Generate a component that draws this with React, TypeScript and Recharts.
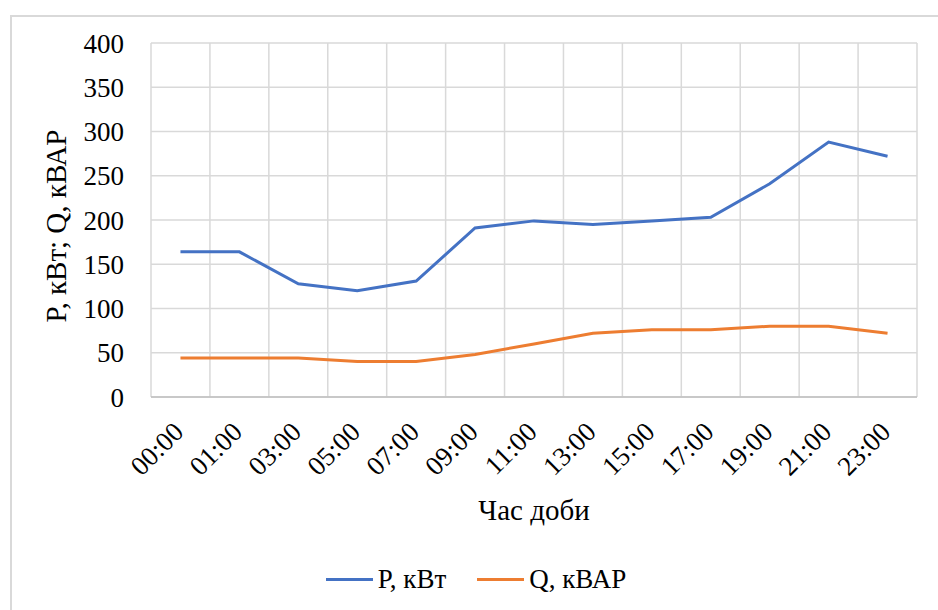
import { LineChart, Line, XAxis, YAxis, CartesianGrid, Legend, Label, Text } from "recharts";

const hours = ["00:00", "01:00", "03:00", "05:00", "07:00", "09:00", "11:00", "13:00", "15:00", "17:00", "19:00", "21:00", "23:00"];
const pValues = [164, 164, 128, 120, 131, 191, 199, 195, 199, 203, 241, 288, 272];
const qValues = [44, 44, 44, 40, 40, 48, 60, 72, 76, 76, 80, 80, 72];
const yTicks = [0, 50, 100, 150, 200, 250, 300, 350, 400];

const seriesNames = { p: "P, кВт", q: "Q, кВАР" };
const BLUE = "#4472C4";
const ORANGE = "#ED7D31";
const FONT = "Liberation Serif";

const data = hours.map((h, i) => ({ hour: h, p: pValues[i], q: qValues[i] }));

// vertical grid lines sit on the category boundaries, like Excel does
const boundaryLines = ({ offset, xAxis }: any) => {
  const left = offset?.left ?? xAxis.x;
  const w = offset?.width ?? xAxis.width;
  return Array.from({ length: hours.length + 1 }, (_, i) => left + (i * w) / hours.length);
};

const HourTick = ({ x, y, payload }: any) => (
  <Text
    x={x - 9}
    y={y}
    angle={-45}
    textAnchor="end"
    verticalAnchor="start"
    fontSize={27}
    fontFamily={FONT}
    fill="#000"
  >
    {payload.value}
  </Text>
);

const LegendBox = () => (
  <div style={{ display: "flex", justifyContent: "center", paddingLeft: 14, fontFamily: FONT, fontSize: 27, color: "#000" }}>
    {[
      { name: seriesNames.p, color: BLUE },
      { name: seriesNames.q, color: ORANGE },
    ].map((s, i) => (
      <div key={s.name} style={{ display: "flex", alignItems: "center", marginLeft: i ? 31 : 0 }}>
        <span style={{ display: "inline-block", width: 47, height: 3, background: s.color, marginRight: 5 }} />
        <span>{s.name}</span>
      </div>
    ))}
  </div>
);

export default function App() {
  return (
    <div style={{ position: "relative", width: 938, height: 610, overflow: "hidden", background: "#fff", fontFamily: FONT }}>
      <style>{`body{margin:0;overflow:hidden}`}</style>
      <div
        style={{
          position: "absolute",
          left: 10,
          top: 15,
          width: 1000,
          height: 700,
          border: "2px solid #d9d9d9",
        }}
      />
      <div style={{ position: "absolute", left: 0, top: 0 }}>
        <LineChart width={938} height={610} data={data} margin={{ top: 43, right: 21, left: 0, bottom: 90 }}>
          <CartesianGrid stroke="#d9d9d9" strokeWidth={1.5} verticalCoordinatesGenerator={boundaryLines} />
          <XAxis
            dataKey="hour"
            scale="band"
            height={123}
            tickSize={0}
            tickMargin={23}
            tickLine={false}
            axisLine={{ stroke: "#bfbfbf", strokeWidth: 1.5 }}
            tick={<HourTick />}
            interval={0}
          >
            <Label value="Час доби" position="insideBottom" offset={0} fontSize={29} fontFamily={FONT} fill="#000" />
          </XAxis>
          <YAxis
            width={151}
            domain={[0, 400]}
            ticks={yTicks}
            axisLine={false}
            tickLine={false}
            tickSize={0}
            tickMargin={27}
            tick={{ fontSize: 27, fontFamily: FONT, fill: "#000" }}
          >
            <Label
              value="P, кВт; Q, кВАР"
              angle={-90}
              position="center"
              dx={-20}
              dy={6}
              fontSize={29}
              fontFamily={FONT}
              fill="#000"
            />
          </YAxis>
          <Legend
            verticalAlign="middle"
            layout="horizontal"
            align="center"
            wrapperStyle={{ top: 564, left: 0, width: 938 }}
            content={<LegendBox />}
          />
          <Line
            dataKey="p"
            name={seriesNames.p}
            stroke={BLUE}
            strokeWidth={3}
            dot={false}
            activeDot={false}
            isAnimationActive={false}
          />
          <Line
            dataKey="q"
            name={seriesNames.q}
            stroke={ORANGE}
            strokeWidth={3}
            dot={false}
            activeDot={false}
            isAnimationActive={false}
          />
        </LineChart>
      </div>
    </div>
  );
}
